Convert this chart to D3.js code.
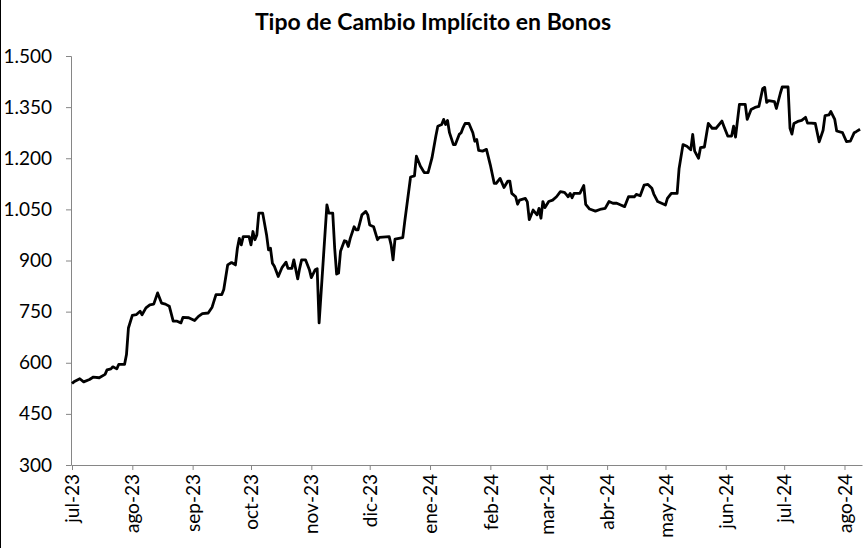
<!DOCTYPE html>
<html><head><meta charset="utf-8">
<script src="https://cdn.jsdelivr.net/npm/d3@7"></script>
<style>body{margin:0;background:#fff}svg{display:block}</style>
</head><body>
<svg id="c" width="866" height="548"></svg>
<script>
// ---- data ----
const title = "Tipo de Cambio Implícito en Bonos";
const baseDate = "2023-07-01";
const endDate = "2024-08-10";
// days elapsed since baseDate for each observation
const dayOffsets = [0,1,4,6,9,11,14,17,18,20,21,23,24,27,28,29,31,33,35,36,38,40,42,44,46,48,50,52,54,56,57,60,63,65,67,70,72,74,77,78,80,82,84,85,86,87,88,91,92,93,94,95,96,98,100,101,102,103,104,106,108,110,111,113,114,116,117,118,120,122,123,125,126,127,131,132,134,135,136,137,138,140,141,142,143,145,146,147,149,151,152,153,155,157,158,163,164,165,166,170,171,174,176,177,179,181,183,185,187,188,190,191,192,193,194,196,197,199,200,201,202,204,206,207,208,209,211,213,215,217,218,220,222,224,225,226,228,229,230,233,234,235,237,239,240,241,242,243,245,247,249,251,253,254,255,256,257,258,261,263,264,266,269,272,274,276,278,280,282,284,286,289,290,292,294,296,298,299,301,303,305,306,308,311,312,314,316,318,319,320,322,323,325,327,329,331,334,335,337,339,340,341,343,346,347,349,351,353,355,356,357,358,361,362,364,365,368,369,370,371,373,375,377,378,380,382,384,386,387,389,390,392,393,396,398,400,402,403,405];
const values = [539,544,553,544,551,558,556,566,579,582,588,582,595,595,624,702,739,741,751,741,761,770,772,805,775,772,766,722,722,717,733,732,724,736,744,746,763,800,800,815,887,894,887,936,965,946,970,970,946,985,961,975,1039,1039,975,931,936,892,883,853,880,895,877,877,902,846,877,902,902,873,850,873,876,717,1063,1039,1039,936,860,863,927,958,956,941,965,999,990,990,1034,1044,1034,1004,999,961,968,970,946,902,963,967,1014,1145,1148,1206,1177,1158,1158,1201,1265,1294,1299,1314,1299,1311,1275,1240,1240,1270,1275,1290,1302,1302,1275,1250,1255,1223,1221,1226,1180,1126,1126,1141,1114,1133,1133,1097,1087,1065,1077,1082,1072,1020,1048,1034,1053,1024,1073,1055,1073,1077,1087,1102,1100,1094,1087,1097,1084,1097,1097,1120,1065,1051,1045,1051,1053,1073,1068,1068,1063,1058,1087,1087,1094,1090,1121,1123,1112,1095,1073,1068,1063,1082,1097,1097,1170,1240,1235,1225,1270,1221,1200,1231,1233,1302,1288,1288,1309,1294,1265,1265,1294,1262,1358,1358,1314,1343,1349,1352,1405,1408,1364,1369,1366,1346,1390,1409,1409,1288,1271,1302,1308,1311,1320,1303,1303,1302,1248,1282,1325,1327,1337,1314,1280,1275,1249,1250,1275,1278,1285];
const monthTicks = ["2023-07-01","2023-08-01","2023-09-01","2023-10-01","2023-11-01","2023-12-01","2024-01-01","2024-02-01","2024-03-01","2024-04-01","2024-05-01","2024-06-01","2024-07-01","2024-08-01"];
const monthLabels = ["jul-23","ago-23","sep-23","oct-23","nov-23","dic-23","ene-24","feb-24","mar-24","abr-24","may-24","jun-24","jul-24","ago-24"];
const yTicks = [300,450,600,750,900,1050,1200,1350,1500];

// ---- chart ----
const parse = d3.utcParse("%Y-%m-%d");
const start = parse(baseDate);
const data = dayOffsets.map((d,i) => ({date: d3.utcDay.offset(start, d), value: values[i]}));

const svg = d3.select("#c");
const font = "Lato, 'Open Sans', sans-serif";
svg.append("rect").attr("width",866).attr("height",548).attr("fill","#fff");
svg.append("line").attr("x1",0.5).attr("x2",0.5).attr("y1",0).attr("y2",548)
  .attr("stroke","#000").attr("stroke-width",1);

const x = d3.scaleUtc().domain([start, parse(endDate)]).range([72, 862]);
const y = d3.scaleLinear().domain([300, 1500]).range([465, 56]);

const loc = d3.formatLocale({decimal: ",", thousands: ".", grouping: [3], currency: ["$",""]});
const fmt = loc.format(",");

svg.append("text").attr("x", 433).attr("y", 30).attr("text-anchor","middle")
  .attr("font-family", font).attr("font-weight","bold").attr("font-size", 23)
  .text(title);

const gy = svg.append("g").attr("transform","translate(71,0)")
  .call(d3.axisLeft(y).tickValues(yTicks).tickSize(5).tickPadding(14).tickFormat(fmt));
gy.select(".domain").attr("stroke","#868686");
gy.selectAll(".tick line").attr("stroke","#868686");
gy.selectAll(".tick text").attr("font-family", font).attr("font-size", 19).attr("fill","#000");

const gx = svg.append("g").attr("transform","translate(0,465)")
  .call(d3.axisBottom(x).tickValues(monthTicks.map(parse)).tickSize(5).tickSizeOuter(0)
    .tickFormat((d,i) => monthLabels[i]));
gx.select(".domain").attr("stroke","#868686");
gx.selectAll(".tick line").attr("stroke","#868686");
gx.selectAll(".tick text").attr("font-family", font).attr("font-size", 19).attr("fill","#000")
  .attr("text-anchor","end").attr("transform","rotate(-90)")
  .attr("x", -9).attr("y", 0).attr("dy","0.35em");

svg.append("path").datum(data)
  .attr("fill","none").attr("stroke","#000").attr("stroke-width",2.8)
  .attr("stroke-linejoin","round")
  .attr("d", d3.line().x(d => x(d.date)).y(d => y(d.value)));
</script>
</body></html>
